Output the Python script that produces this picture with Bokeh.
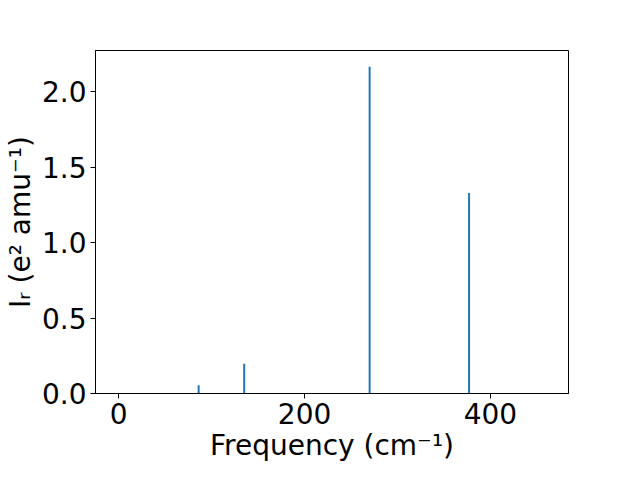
from bokeh.plotting import figure
from bokeh.models import Range1d, FixedTicker
from bokeh.embed import file_html
from bokeh.resources import INLINE

# Data
frequencies = [86, 135, 270, 377]          # cm^-1
intensities = [0.055, 0.197, 2.166, 1.329]  # e^2 amu^-1
x_ticks = [0, 200, 400]
y_ticks = [0.0, 0.5, 1.0, 1.5, 2.0]

p = figure(width=624, height=464, output_backend="svg", toolbar_location=None,
           x_range=Range1d(-25, 484), y_range=Range1d(0, 2.274),
           min_border_left=10, min_border_top=50, min_border_right=56, min_border_bottom=10)

p.segment(x0=frequencies, y0=[0] * len(frequencies), x1=frequencies, y1=intensities,
          line_color="#1f77b4", line_width=2)

p.grid.visible = False
p.outline_line_color = "black"
p.outline_line_width = 1
p.background_fill_color = "white"
p.border_fill_color = "white"

for ax in (p.xaxis[0], p.yaxis[0]):
    ax.axis_line_color = "black"
    ax.major_tick_line_color = "black"
    ax.major_tick_out = 5
    ax.major_tick_in = 0
    ax.minor_tick_line_color = None
    ax.major_label_text_font = "DejaVu Sans"
    ax.major_label_text_font_size = "28px"
    ax.major_label_text_color = "black"
    ax.axis_label_text_font = "DejaVu Sans"
    ax.axis_label_text_font_size = "28px"
    ax.axis_label_text_font_style = "normal"
    ax.axis_label_text_color = "black"
    ax.axis_label_standoff = 2
    ax.major_label_standoff = 4

p.xaxis.ticker = FixedTicker(ticks=x_ticks)
p.yaxis.ticker = FixedTicker(ticks=y_ticks)
p.yaxis.major_label_overrides = {t: f"{t:.1f}" for t in y_ticks}
p.xaxis.axis_label = "Frequency (cm\u207b\u00b9)"
p.yaxis.axis_label = "I\u1d63 (e\u00b2 amu\u207b\u00b9)"

open("out.html", "w").write(file_html(p, INLINE))
